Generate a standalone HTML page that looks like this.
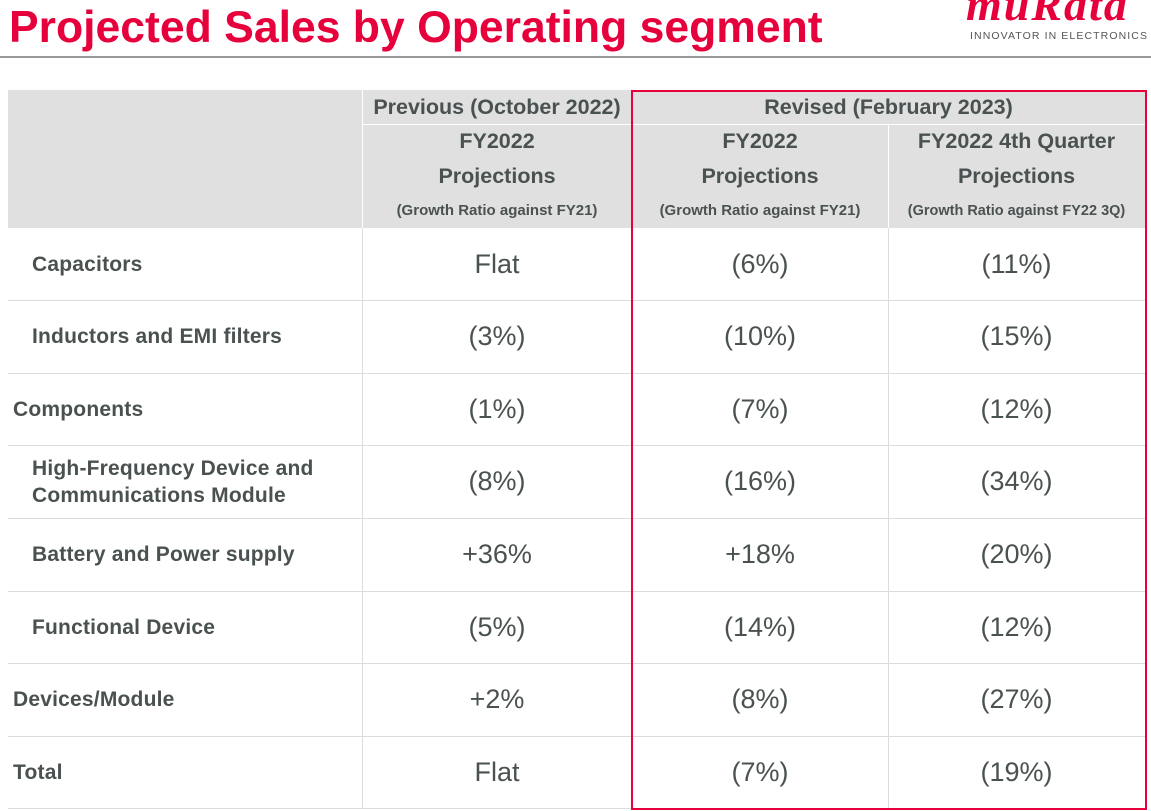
<!DOCTYPE html>
<html><head><meta charset="utf-8"><style>
body{margin:0;width:1151px;height:811px;background:#fff;position:relative;overflow:hidden;font-family:"Liberation Sans",Arial,sans-serif;color:#4a5151}
.a{position:absolute}
.hd{background:#e0e0e0}
.c{display:flex;align-items:center;justify-content:center;text-align:center}
.lbl{display:flex;align-items:center;font-weight:bold;font-size:21px;line-height:27px;letter-spacing:0.2px}
.v{font-size:27px}
.b{font-weight:bold;font-size:21.5px}
.s{font-weight:bold;font-size:15px}
.hl{height:1px;background:#dcdcdc}
.vl{width:1px;background:#dcdcdc}
</style></head><body>
<div class="a" style="left:9px;top:3px;font-size:44.5px;font-weight:bold;color:#e6003c;white-space:nowrap">Projected Sales by Operating segment</div>
<div class="a" style="left:966px;top:-22px;font-size:46px;font-weight:bold;font-style:italic;color:#e6003c;font-family:'Liberation Serif',serif;letter-spacing:2px;white-space:nowrap">muRata</div>
<div class="a" style="left:970px;top:30px;font-size:10.5px;letter-spacing:1.1px;color:#555;white-space:nowrap">INNOVATOR IN ELECTRONICS</div>
<div class="a" style="left:0;top:56px;width:1151px;height:2px;background:#999"></div>

<div class="a hd" style="left:8px;top:90px;width:1137px;height:138px"></div>
<div class="a" style="left:362px;top:90px;width:1px;height:138px;background:#fff"></div>
<div class="a" style="left:888px;top:124px;width:1px;height:104px;background:#fff"></div>
<div class="a" style="left:362px;top:124px;width:783px;height:1px;background:#fff"></div>

<div class="a c b" style="left:362px;top:90px;width:270px;height:34px;white-space:nowrap">Previous (October 2022)</div>
<div class="a c b" style="left:632px;top:90px;width:513px;height:34px">Revised (February 2023)</div>

<div class="a" style="left:362px;top:124px;width:270px;text-align:center;white-space:nowrap"><div class="b" style="line-height:35px">FY2022</div><div class="b" style="line-height:35px">Projections</div><div class="s" style="line-height:24px;margin-top:5px">(Growth Ratio against FY21)</div></div>
<div class="a" style="left:632px;top:124px;width:256px;text-align:center;white-space:nowrap"><div class="b" style="line-height:35px">FY2022</div><div class="b" style="line-height:35px">Projections</div><div class="s" style="line-height:24px;margin-top:5px">(Growth Ratio against FY21)</div></div>
<div class="a" style="left:888px;top:124px;width:257px;text-align:center;white-space:nowrap"><div class="b" style="line-height:35px">FY2022 4th Quarter</div><div class="b" style="line-height:35px">Projections</div><div class="s" style="line-height:24px;margin-top:5px;font-size:14.5px">(Growth Ratio against FY22 3Q)</div></div>

<div id="rows"></div>
<div class="a" style="left:631px;top:90px;width:512px;height:716px;border:2px solid #e6003c"></div>
<script>
const labels=["Capacitors","Inductors and EMI filters","Components","High-Frequency Device and<br>Communications Module","Battery and Power supply","Functional Device","Devices/Module","Total"];
const indent=[1,1,0,1,1,1,0,0];
const prev=["Flat","(3%)","(1%)","(8%)","+36%","(5%)","+2%","Flat"];
const rev=["(6%)","(10%)","(7%)","(16%)","+18%","(14%)","(8%)","(7%)"];
const q4=["(11%)","(15%)","(12%)","(34%)","(20%)","(12%)","(27%)","(19%)"];
const tops=[228,300,373,445,518,591,663,736,808];
const R=document.getElementById('rows');
function add(html){R.insertAdjacentHTML('beforeend',html);}
for(let i=0;i<labels.length;i++){
 const t=tops[i],h=tops[i+1]-t;
 add(`<div class="a lbl" style="left:${indent[i]?32:13}px;top:${t}px;height:${h}px">${labels[i]}</div>`);
 add(`<div class="a c v" style="left:362px;top:${t}px;width:270px;height:${h}px">${prev[i]}</div>`);
 add(`<div class="a c v" style="left:632px;top:${t}px;width:256px;height:${h}px">${rev[i]}</div>`);
 add(`<div class="a c v" style="left:888px;top:${t}px;width:257px;height:${h}px">${q4[i]}</div>`);
 add(`<div class="a hl" style="left:8px;top:${tops[i+1]}px;width:1137px"></div>`);
}
add(`<div class="a vl" style="left:362px;top:228px;height:580px"></div>`);
add(`<div class="a vl" style="left:888px;top:228px;height:580px"></div>`);
</script>
</body></html>
